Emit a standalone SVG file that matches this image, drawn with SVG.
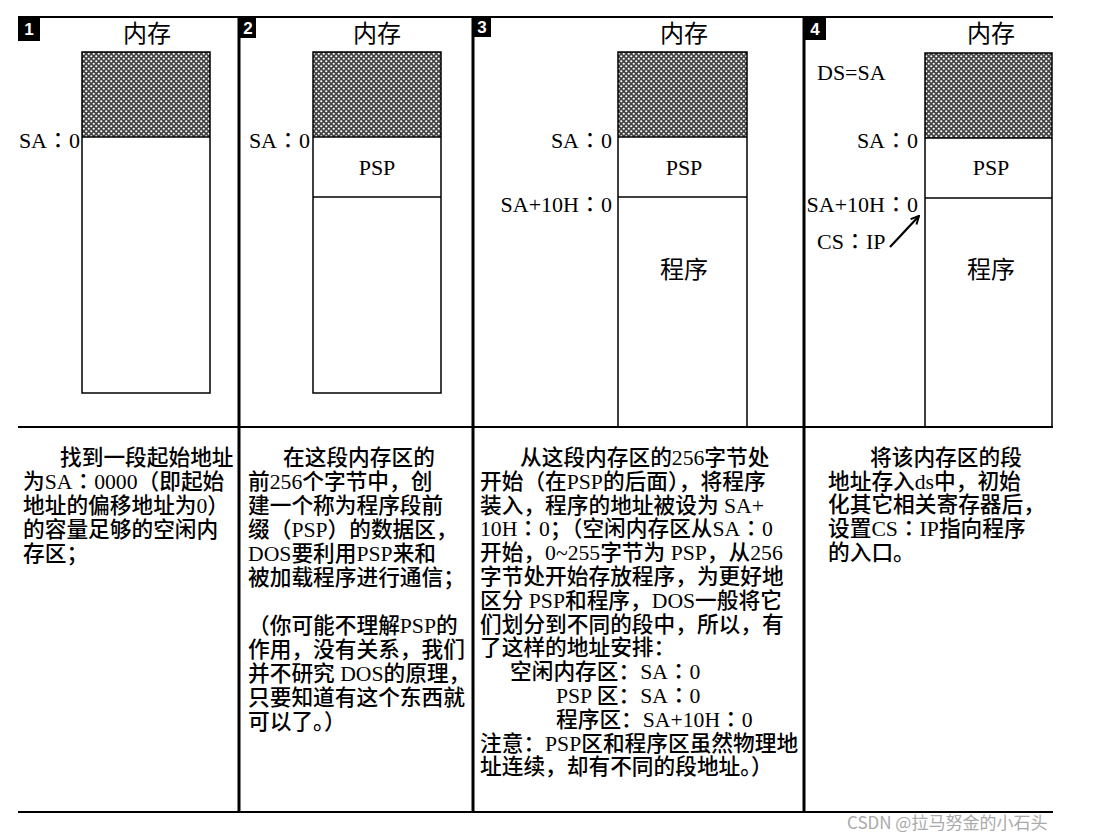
<svg xmlns="http://www.w3.org/2000/svg" width="1093" height="840" viewBox="0 0 1093 840">
<defs>
<pattern id="hatch" patternUnits="userSpaceOnUse" width="5" height="5">
<rect width="5" height="5" fill="#444"/>
<circle cx="1.25" cy="1.25" r="1.1" fill="#fff"/>
<circle cx="3.75" cy="3.75" r="1.1" fill="#fff"/>
</pattern>
<marker id="arr" viewBox="0 0 10 10" refX="9" refY="5" markerWidth="10" markerHeight="10" orient="auto" markerUnits="userSpaceOnUse">
<path d="M1,1 L9,5 L1,9" fill="none" stroke="#000" stroke-width="2"/>
</marker>
</defs>
<style>
.frame{stroke:#000;stroke-width:2;fill:none}
.div{stroke:#000;stroke-width:3;fill:none}
.box{stroke:#000;stroke-width:1.5;fill:none}
.badge{fill:#000}
.num{fill:#fff;font-family:"Liberation Sans",sans-serif;font-weight:bold;font-size:17px;text-anchor:middle}
.title{font-family:"Liberation Serif","Noto Sans CJK SC",serif;font-size:24px;text-anchor:middle;fill:#000}
.lbl{font-family:"Liberation Serif","Noto Sans CJK TC",serif;font-size:22px;fill:#000}
.end{text-anchor:end}
.mid{text-anchor:middle}
.body{font-family:"Liberation Serif","Noto Sans CJK SC",serif;font-size:21.7px;font-weight:500;fill:#000}
.c{font-family:"Noto Sans CJK TC",sans-serif}
.wm{font-family:"Noto Sans CJK SC","Liberation Sans",sans-serif;font-size:17px;fill:#aaa}
</style>
<rect width="1093" height="840" fill="#fff"/>
<g id="frame">
<line class="frame" x1="18" y1="17" x2="1053" y2="17" stroke-width="1.5"/>
<line class="frame" x1="18" y1="427" x2="1053" y2="427"/>
<line class="frame" x1="18" y1="812" x2="1053" y2="812"/>
<line class="div" x1="239" y1="17" x2="239" y2="812"/>
<line class="div" x1="473" y1="17" x2="473" y2="812"/>
<line class="div" x1="804" y1="17" x2="804" y2="812"/>
</g>
<g id="panel1">
<rect class="badge" x="18" y="17" width="22" height="24"/>
<text class="num" x="29" y="35">1</text>
<text class="title" x="147" y="42">内存</text>
<rect x="82" y="52" width="128" height="85" fill="url(#hatch)"/>
<rect class="box" x="82" y="52" width="128" height="341"/>
<line class="box" x1="82" y1="137" x2="210" y2="137"/>
<text class="lbl end" x="80" y="148">SA：0</text>
</g>
<g id="panel2">
<rect class="badge" x="240" y="17" width="16" height="21"/>
<text class="num" x="248" y="34">2</text>
<text class="title" x="377" y="42">内存</text>
<rect x="313" y="52" width="128" height="85" fill="url(#hatch)"/>
<rect class="box" x="313" y="52" width="128" height="341"/>
<line class="box" x1="313" y1="137" x2="441" y2="137"/>
<line class="box" x1="313" y1="197" x2="441" y2="197"/>
<text class="lbl end" x="310" y="148">SA：0</text>
<text class="lbl mid" x="377" y="175">PSP</text>
</g>
<g id="panel3">
<rect class="badge" x="474" y="17" width="17" height="20"/>
<text class="num" x="482" y="33">3</text>
<text class="title" x="684" y="42">内存</text>
<rect x="618" y="52" width="129" height="85" fill="url(#hatch)"/>
<path class="box" d="M618,427 V52 H747 V427"/>
<line class="box" x1="618" y1="137" x2="747" y2="137"/>
<line class="box" x1="618" y1="197" x2="747" y2="197"/>
<text class="lbl end" x="612" y="148">SA：0</text>
<text class="lbl mid" x="684" y="175">PSP</text>
<text class="lbl end" x="612" y="212">SA+10H：0</text>
<text class="title" x="684" y="278">程序</text>
</g>
<g id="panel4">
<rect class="badge" x="805" y="17" width="21" height="23"/>
<text class="num" x="815" y="35">4</text>
<text class="title" x="991" y="42">内存</text>
<rect x="925" y="53" width="127" height="85" fill="url(#hatch)"/>
<path class="box" d="M925,427 V53 H1052 V427"/>
<line class="box" x1="925" y1="138" x2="1052" y2="138"/>
<line class="box" x1="925" y1="198" x2="1052" y2="198"/>
<text class="lbl" x="817" y="80">DS=SA</text>
<text class="lbl end" x="918" y="148">SA：0</text>
<text class="lbl mid" x="991" y="175">PSP</text>
<text class="lbl end" x="918" y="212">SA+10H：0</text>
<text class="lbl" x="817" y="249">CS：IP</text>
<text class="title" x="991" y="278">程序</text>
</g>
<g id="connectors">
<line x1="890" y1="247" x2="919" y2="216" stroke="#000" stroke-width="2.2" marker-end="url(#arr)"/>
</g>
<g id="text1" class="body">
<text x="60" y="465">找到一段起始地址</text>
<text x="23" y="489">为SA<tspan class="c">：</tspan>0000（即起始</text>
<text x="23" y="513">地址的偏移地址为0）</text>
<text x="23" y="537">的容量足够的空闲内</text>
<text x="23" y="561">存区；</text>
</g>
<g id="text2" class="body">
<text x="283" y="465">在这段内存区的</text>
<text x="248" y="489">前256个字节中，创</text>
<text x="248" y="513">建一个称为程序段前</text>
<text x="248" y="537">缀（PSP）的数据区，</text>
<text x="248" y="561">DOS要利用PSP来和</text>
<text x="248" y="585">被加载程序进行通信；</text>
<text x="248" y="633">（你可能不理解PSP的</text>
<text x="248" y="657">作用，没有关系，我们</text>
<text x="248" y="681">并不研究 DOS的原理，</text>
<text x="248" y="705">只要知道有这个东西就</text>
<text x="248" y="729">可以了。）</text>
</g>
<g id="text3" class="body">
<text x="520" y="465">从这段内存区的256字节处</text>
<text x="480" y="489">开始（在PSP的后面），将程序</text>
<text x="480" y="513">装入，程序的地址被设为 SA+</text>
<text x="480" y="536">10H<tspan class="c">：</tspan>0；（空闲内存区从SA<tspan class="c">：</tspan>0</text>
<text x="480" y="560">开始，0~255字节为 PSP，从256</text>
<text x="480" y="584">字节处开始存放程序，为更好地</text>
<text x="480" y="608">区分 PSP和程序，DOS一般将它</text>
<text x="480" y="632">们划分到不同的段中，所以，有</text>
<text x="480" y="655">了这样的地址安排：</text>
<text x="510" y="679">空闲内存区：SA<tspan class="c">：</tspan>0</text>
<text x="556" y="703">PSP 区：SA<tspan class="c">：</tspan>0</text>
<text x="556" y="727">程序区：SA+10H<tspan class="c">：</tspan>0</text>
<text x="480" y="751">注意：PSP区和程序区虽然物理地</text>
<text x="480" y="774">址连续，却有不同的段地址。）</text>
</g>
<g id="text4" class="body">
<text x="870" y="465">将该内存区的段</text>
<text x="828" y="489">地址存入ds中，初始</text>
<text x="828" y="512">化其它相关寄存器后，</text>
<text x="828" y="536">设置CS<tspan class="c">：</tspan>IP指向程序</text>
<text x="828" y="560">的入口。</text>
</g>
<text class="wm" x="847" y="829">CSDN @拉马努金的小石头</text>
</svg>
